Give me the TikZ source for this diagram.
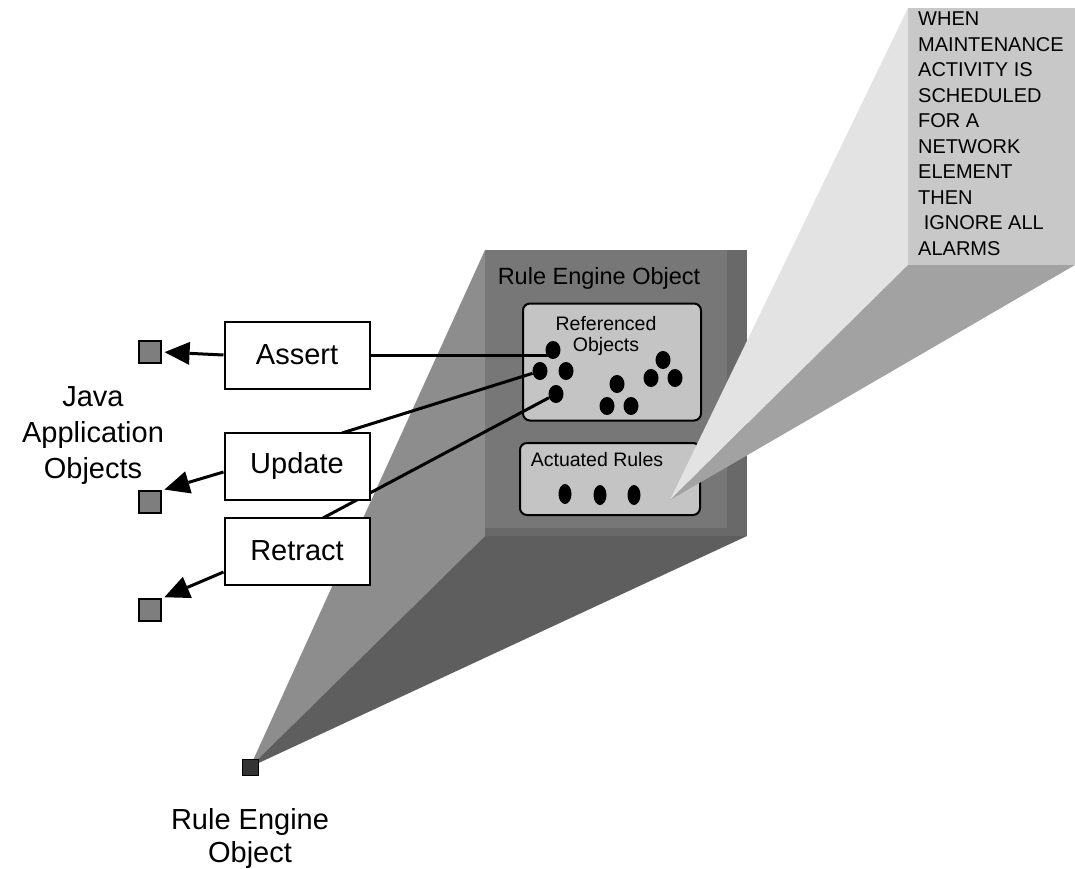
\documentclass[tikz,border=0pt]{standalone}
\usepackage{fontspec}
\setmainfont{Liberation Sans}
\usepackage{tikz}
\usetikzlibrary{arrows.meta,shapes}

\definecolor{leftface}{HTML}{8D8D8D}
\definecolor{bottomface}{HTML}{5E5E5E}
\definecolor{frontface}{HTML}{777777}
\definecolor{frontedge}{HTML}{696969}
\definecolor{holderfill}{HTML}{C4C4C4}
\definecolor{beamleft}{HTML}{E3E3E3}
\definecolor{beambottom}{HTML}{A2A2A2}
\definecolor{notefill}{HTML}{C8C8C8}
\definecolor{jfill}{HTML}{7E7E7E}

\begin{document}
\begin{tikzpicture}[x=1pt,y=-1pt]
	\tikzstyle{every node}=[align=center]
	\tikzstyle{action}=[draw,line width=2pt,fill=white,minimum width=145pt,minimum height=67pt,inner sep=0pt,font=\fontsize{29}{32}\selectfont]
	\tikzstyle{holder}=[draw,line width=2pt,rounded corners=7pt,fill=holderfill,inner sep=0pt]
	\tikzstyle{obj}=[ellipse,fill=black,minimum width=15pt,minimum height=18pt,inner sep=0pt]
	\tikzstyle{jobj}=[draw,line width=1.2pt,fill=jfill,minimum size=22pt,inner sep=0pt]
	\tikzstyle{link}=[line width=3pt]
	\tikzstyle{push}=[line width=3pt,arrows={-Triangle[length=25pt,width=23pt,line width=0pt]},shorten >=3pt]
	\tikzstyle{small}=[font=\fontsize{19.5}{23}\selectfont,inner sep=0pt]
	\tikzstyle{big}=[font=\fontsize{29}{36}\selectfont,inner sep=0pt]
	\useasboundingbox (0,0) rectangle (1075,869);

	\coordinate (apex) at (250,767);
	\fill[leftface] (apex) -- (485,250) -- (485,536) -- cycle;
	\fill[bottomface] (apex) -- (485,536) -- (747,536) -- cycle;
	\fill[frontface] (485,250) rectangle (747,536);
	\fill[frontedge] (727,250) rectangle (747,536);
	\fill[frontedge] (485,528) rectangle (747,536);
	\node[font=\fontsize{23.5}{26}\selectfont,inner sep=0pt] (engine) at (599,278) {Rule Engine Object};

	\node[holder,minimum width=178pt,minimum height=117pt] (refbox) at (612,362) {};
	\node[small,anchor=north] (reflabel) at (606,316) {Referenced\\[-2pt]Objects};
	\node[holder,minimum width=180pt,minimum height=72pt] (rulebox) at (610,479) {};
	\node[small,anchor=north] (rulelabel) at (597,452) {Actuated Rules};

	\node[obj] (o1) at (553,350) {};
	\node[obj] (o2) at (540,371) {};
	\node[obj] (o3) at (566,371) {};
	\node[obj] (o4) at (556,394) {};
	\node[obj] (o5) at (617,384) {};
	\node[obj] (o6) at (607,406) {};
	\node[obj] (o7) at (631,406) {};
	\node[obj] (o8) at (663,360) {};
	\node[obj] (o9) at (651,378) {};
	\node[obj] (o10) at (675,378) {};
	\node[obj,minimum height=20pt,minimum width=13pt] (r1) at (565,494) {};
	\node[obj,minimum height=20pt,minimum width=13pt] (r2) at (600,495) {};
	\node[obj,minimum height=20pt,minimum width=13pt] (r3) at (634,495) {};

	\coordinate (updend) at (342,433);
	\coordinate (retend) at (323,518);
	\draw[link] (o2) -- (updend);
	\draw[link] (o4) -- (retend);

	\node[action] (assert) at (297,355) {Assert};
	\node[action] (update) at (297,466) {Update};
	\node[action] (retract) at (297,551) {Retract};

	\node[jobj] (j1) at (150,352) {};
	\node[jobj] (j2) at (150,502) {};
	\node[jobj] (j3) at (150,610) {};
	\node[big] (javalabel) at (93,436) {Java\\Application\\Objects};

	\draw[link] (assert.east) -- (assert.east -| o1);
	\draw[push] (assert.west) -- (j1.east);
	\draw[push] ([yshift=-6pt]update.west) -- (j2.north east);
	\draw[push] ([yshift=-21pt]retract.west) -- (j3.north east);

	\coordinate (tip) at (670,500);
	\fill[beamleft] (tip) -- (908,8) -- (908,265) -- cycle;
	\fill[beambottom] (tip) -- (908,265) -- (1075,265) -- cycle;
	\fill[notefill] (908,8) rectangle (1075,265);
	\node[font=\fontsize{20}{25.5}\selectfont,align=left,anchor=north west,inner sep=0pt] (rule) at (918,12)
		{WHEN\\MAINTENANCE\\ACTIVITY IS\\SCHEDULED\\FOR A\\NETWORK\\ELEMENT\\THEN\\\ IGNORE ALL\\ALARMS};

	\node[draw,line width=1pt,fill=black!80,minimum size=16pt,inner sep=0pt] (origin) at (apex) {};
	\node[big,font=\fontsize{29}{33}\selectfont] (originlabel) at (250,838) {Rule Engine\\Object};
\end{tikzpicture}
\end{document}
